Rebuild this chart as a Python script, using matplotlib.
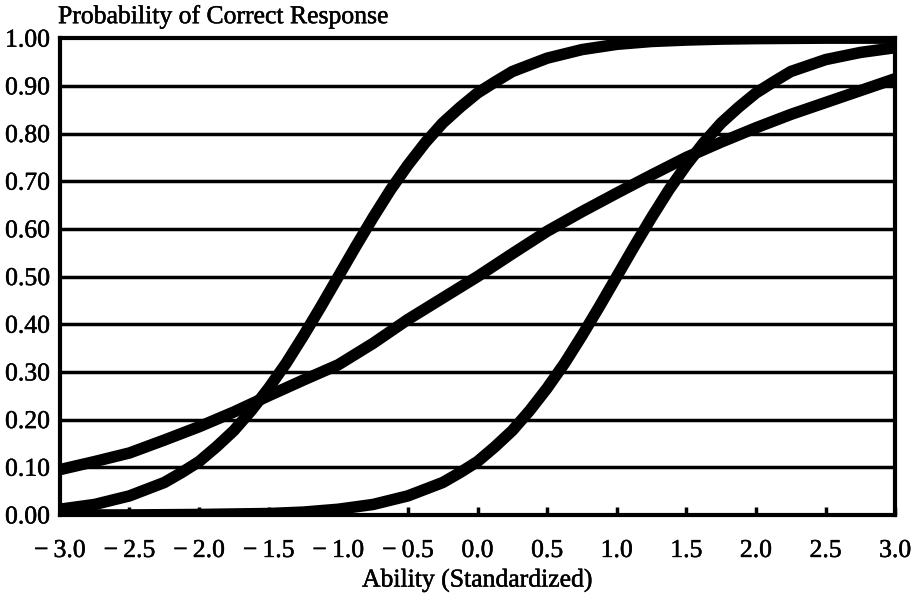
import matplotlib
matplotlib.use("Agg")
import matplotlib.pyplot as plt
import matplotlib.patheffects as pe

plt.rcParams['font.family'] = ['Liberation Serif', 'DejaVu Serif']

# Easy, highly discriminating item
x_easy = [-3.0, -2.75, -2.5, -2.25, -2.125, -2.0, -1.875, -1.75, -1.625, -1.5, -1.375,
          -1.25, -1.125, -1.0, -0.875, -0.75, -0.625, -0.5, -0.375, -0.25, -0.125,
          0.0, 0.125, 0.25, 0.5, 0.75, 1.0, 1.25, 1.5, 1.75, 2.0, 2.5, 3.0]
p_easy = [0.012, 0.022, 0.04, 0.068, 0.089, 0.112, 0.143, 0.177, 0.219, 0.266, 0.318,
          0.376, 0.437, 0.50, 0.563, 0.624, 0.682, 0.734, 0.781, 0.822, 0.855,
          0.885, 0.908, 0.93, 0.958, 0.976, 0.987, 0.993, 0.996, 0.998, 0.999, 1.0, 1.0]

# Hard, highly discriminating item
x_hard = [-3.0, -2.5, -2.0, -1.5, -1.25, -1.0, -0.75, -0.5, -0.25, -0.125, 0.0, 0.125,
          0.25, 0.375, 0.5, 0.625, 0.75, 0.875, 1.0, 1.125, 1.25, 1.375, 1.5, 1.625,
          1.75, 1.875, 2.0, 2.125, 2.25, 2.5, 2.75, 3.0]
p_hard = [0.0, 0.0, 0.001, 0.003, 0.006, 0.012, 0.022, 0.04, 0.068, 0.089, 0.112, 0.143,
          0.177, 0.219, 0.266, 0.318, 0.376, 0.437, 0.50, 0.563, 0.624, 0.682, 0.734, 0.781,
          0.822, 0.855, 0.885, 0.908, 0.93, 0.955, 0.97, 0.98]

# Medium difficulty, low discrimination item
x_flat = [-3.0, -2.75, -2.5, -2.25, -2.0, -1.75, -1.5, -1.25, -1.0, -0.75, -0.5, -0.25,
          0.0, 0.25, 0.5, 0.75, 1.0, 1.25, 1.5, 1.75, 2.0, 2.25, 2.5, 2.75, 3.0]
p_flat = [0.095, 0.112, 0.13, 0.157, 0.185, 0.216, 0.25, 0.283, 0.315, 0.36, 0.41, 0.455,
          0.50, 0.548, 0.595, 0.636, 0.675, 0.713, 0.75, 0.782, 0.812, 0.84, 0.865, 0.89, 0.915]

x_ticks = [-3.0, -2.5, -2.0, -1.5, -1.0, -0.5, 0.0, 0.5, 1.0, 1.5, 2.0, 2.5, 3.0]
x_tick_labels = ["\u2212\u20093.0", "\u2212\u20092.5", "\u2212\u20092.0", "\u2212\u20091.5",
                 "\u2212\u20091.0", "\u2212\u20090.5", "0.0", "0.5", "1.0", "1.5",
                 "2.0", "2.5", "3.0"]
y_ticks = [0.0, 0.1, 0.2, 0.3, 0.4, 0.5, 0.6, 0.7, 0.8, 0.9, 1.0]
y_tick_labels = ["0.00", "0.10", "0.20", "0.30", "0.40", "0.50", "0.60", "0.70",
                 "0.80", "0.90", "1.00"]

FS = 18.5
bold_fx = [pe.withStroke(linewidth=0.35, foreground='black')]

fig = plt.figure(figsize=(9.21, 5.96), dpi=100)
ax = fig.add_axes([0.065, 0.136, 0.907, 0.8])

for xv, yv in [(x_easy, p_easy), (x_hard, p_hard), (x_flat, p_flat)]:
    ax.plot(xv, yv, color='black', lw=8.3, solid_capstyle='butt',
            solid_joinstyle='round', zorder=3)

ax.set_xlim(-3, 3)
ax.set_ylim(0, 1)
ax.set_yticks(y_ticks)
ax.set_yticklabels(y_tick_labels, fontsize=FS)
ax.set_xticks(x_ticks)
ax.set_xticklabels(x_tick_labels, fontsize=FS)
ax.tick_params(axis='y', length=0, pad=7)
ax.tick_params(axis='x', direction='in', length=6, width=2.5, pad=18)
for lab in ax.get_xticklabels() + ax.get_yticklabels():
    lab.set_path_effects(bold_fx)

for yv in y_ticks[1:-1]:
    ax.axhline(yv, color='black', lw=2.5, zorder=2)

for s in ax.spines.values():
    s.set_linewidth(3)
    s.set_color('black')

xl = ax.set_xlabel("Ability (Standardized)", fontsize=FS, labelpad=5)
xl.set_path_effects(bold_fx)
t = fig.text(0.063, 0.972, "Probability of Correct Response", fontsize=FS,
             ha='left', va='center')
t.set_path_effects(bold_fx)

fig.savefig("out.png", dpi=100, facecolor='white')
